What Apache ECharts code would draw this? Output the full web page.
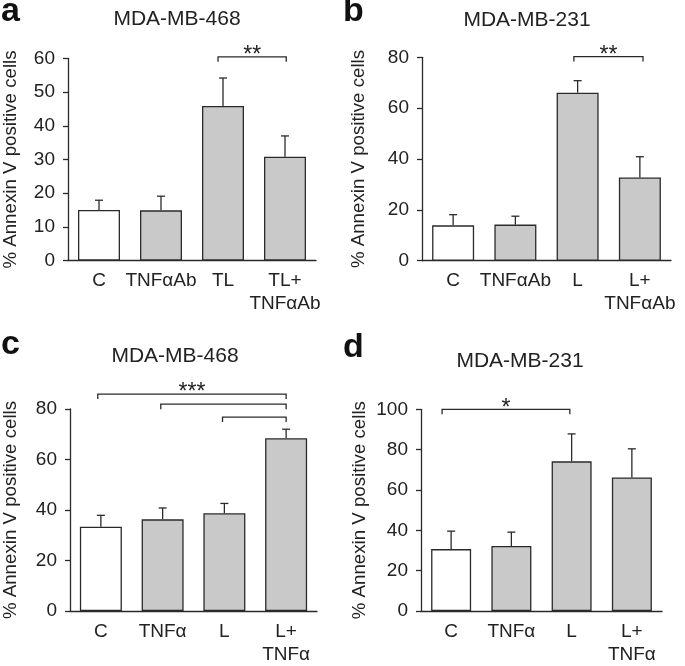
<!DOCTYPE html>
<html>
<head>
<meta charset="utf-8">
<script src="https://cdn.jsdelivr.net/npm/echarts@6/dist/echarts.min.js"></script>
<style>
html,body{margin:0;padding:0;background:#fff;}
#main{width:685px;height:666px;}
</style>
</head>
<body>
<div id="main"></div>
<script>
// ---------- data ----------
const titleA = 'MDA-MB-468';
const titleB = 'MDA-MB-231';
const titleC = 'MDA-MB-468';
const titleD = 'MDA-MB-231';
const yName = '% Annexin V positive cells';

const catsA = ['C', 'TNFαAb', 'TL', 'TL+\nTNFαAb'];
const meanA = [15.0, 14.9, 45.9, 30.8];
const errA  = [2.9, 4.2, 8.3, 6.2];
const yMaxA = 60, yStepA = 10;

const catsB = ['C', 'TNFαAb', 'L', 'L+\nTNFαAb'];
const meanB = [13.9, 14.2, 66.1, 32.7];
const errB  = [4.2, 3.3, 4.7, 8.2];
const yMaxB = 80, yStepB = 20;

const catsC = ['C', 'TNFα', 'L', 'L+\nTNFα'];
const meanC = [33.4, 36.3, 38.7, 68.4];
const errC  = [4.5, 4.5, 3.9, 3.6];
const yMaxC = 80, yStepC = 20;

const catsD = ['C', 'TNFα', 'L', 'L+\nTNFα'];
const meanD = [30.7, 32.2, 74.2, 66.2];
const errD  = [8.9, 6.9, 13.6, 14.2];
const yMaxD = 100, yStepD = 20;

// significance brackets: [from (category position), to, y value, label]
const sigA = [[1.92, 3.02, 60.5, '**']];
const sigB = [[1.94, 3.05, 80.3, '**']];
const sigC = [[-0.05, 3.0, 85.9, '***'], [0.97, 3.0, 81.9, ''], [1.97, 3.0, 76.8, '']];
const sigD = [[-0.15, 1.97, 100, '*']];

// ---------- styling ----------
const FONT = 'Liberation Sans, Arial, Helvetica, sans-serif';
const INK = '#222';
const LINE = '#2a2a2a';
const WHITE = '#ffffff';
const GREY = '#c9c9c9';

const panels = [
  {title: titleA, cats: catsA, mean: meanA, err: errA, max: yMaxA, step: yStepA, sig: sigA,
   grid: {left: 66, top: 58.5, width: 250, height: 202}, barW: 42, nameGap: 48, tx: 177, ty: 8.5},
  {title: titleB, cats: catsB, mean: meanB, err: errB, max: yMaxB, step: yStepB, sig: sigB,
   grid: {left: 422, top: 57.3, width: 249, height: 203.4}, barW: 42, nameGap: 54, tx: 527, ty: 10},
  {title: titleC, cats: catsC, mean: meanC, err: errC, max: yMaxC, step: yStepC, sig: sigC,
   grid: {left: 68, top: 409, width: 249, height: 203.3}, barW: 42, nameGap: 50, tx: 175, ty: 345.5},
  {title: titleD, cats: catsD, mean: meanD, err: errD, max: yMaxD, step: yStepD, sig: sigD,
   grid: {left: 421, top: 409.3, width: 241, height: 203}, barW: 40, nameGap: 52, tx: 520, ty: 350.5}
];

const grids = [], xAxes = [], yAxes = [], series = [], titles = [];

panels.forEach((p, gi) => {
  grids.push(Object.assign({containLabel: false}, p.grid));
  titles.push({
    text: p.title, left: p.tx, top: p.ty, textAlign: 'center', padding: 0,
    textStyle: {fontFamily: FONT, fontSize: 21, fontWeight: 'normal', color: INK}
  });
  xAxes.push({
    type: 'category', gridIndex: gi, data: p.cats,
    axisLine: {lineStyle: {color: LINE, width: 1.3}},
    axisTick: {show: false},
    axisLabel: {interval: 0, margin: 9, fontFamily: FONT, fontSize: 19, color: INK, lineHeight: 23}
  });
  yAxes.push({
    type: 'value', gridIndex: gi, min: 0, max: p.max, interval: p.step,
    name: yName, nameLocation: 'middle', nameRotate: 90, nameGap: p.nameGap,
    nameTextStyle: {fontFamily: FONT, fontSize: 18.7, color: INK},
    axisLine: {show: true, lineStyle: {color: LINE, width: 1.3}},
    axisTick: {show: true, length: 5, lineStyle: {color: LINE, width: 1.3}},
    axisLabel: {margin: 13, fontFamily: FONT, fontSize: 19, color: INK},
    splitLine: {show: false}
  });
  series.push({
    type: 'bar', xAxisIndex: gi, yAxisIndex: gi, barWidth: p.barW, silent: true,
    data: p.mean.map((v, i) => ({value: v, itemStyle: {color: i === 0 ? WHITE : GREY}})),
    itemStyle: {borderColor: LINE, borderWidth: 1.3},
    z: 2
  });
  series.push({
    type: 'custom', xAxisIndex: gi, yAxisIndex: gi, silent: true, z: 3,
    data: p.mean.map((m, i) => [i, m, p.err[i]]),
    renderItem: function (params, api) {
      const i = api.value(0), m = api.value(1), e = api.value(2);
      const b = api.coord([i, m]);
      const t = api.coord([i, m + e]);
      const cw = 4;
      return {
        type: 'group',
        children: [
          {type: 'line', shape: {x1: b[0], y1: b[1], x2: t[0], y2: t[1]}, style: {stroke: LINE, lineWidth: 1.3}},
          {type: 'line', shape: {x1: t[0] - cw, y1: t[1], x2: t[0] + cw, y2: t[1]}, style: {stroke: LINE, lineWidth: 1.3}}
        ]
      };
    }
  });
  const sig = p.sig;
  series.push({
    type: 'custom', xAxisIndex: gi, yAxisIndex: gi, silent: true, z: 4, clip: false,
    data: sig.map(s => [0, s[2]]),
    renderItem: function (params, api) {
      const s = sig[params.dataIndex];
      const o = api.coord([0, s[2]]);
      const band = api.size([1, 0])[0];
      const x1 = o[0] + s[0] * band, x2 = o[0] + s[1] * band, y = o[1];
      const drop = 5;
      const ch = [{
        type: 'polyline',
        shape: {points: [[x1, y + drop], [x1, y], [x2, y], [x2, y + drop]]},
        style: {stroke: LINE, lineWidth: 1.3, fill: null}
      }];
      if (s[3]) {
        ch.push({
          type: 'text',
          style: {text: s[3], x: (x1 + x2) / 2, y: y - 1, align: 'center', verticalAlign: 'middle',
                  fontFamily: FONT, fontSize: 23, fill: INK}
        });
      }
      return {type: 'group', children: ch};
    }
  });
});

const letters = [
  {t: 'a', x: 1, y: 11.5},
  {t: 'b', x: 343, y: 11.5},
  {t: 'c', x: 1, y: 344.5},
  {t: 'd', x: 343, y: 347.5}
];

const chart = echarts.init(document.getElementById('main'), null, {renderer: 'canvas'});
chart.setOption({
  backgroundColor: '#ffffff',
  animation: false,
  title: titles,
  grid: grids,
  xAxis: xAxes,
  yAxis: yAxes,
  series: series,
  graphic: letters.map(l => ({
    type: 'text', x: l.x, y: l.y, silent: true,
    style: {text: l.t, fontFamily: FONT, fontSize: 34, fontWeight: 'bold', fill: '#111', verticalAlign: 'middle'}
  }))
});
</script>
</body>
</html>
